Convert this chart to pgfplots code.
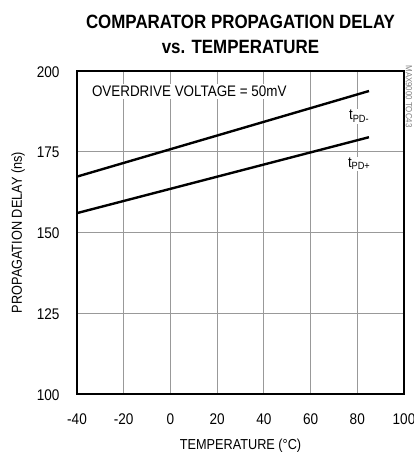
\documentclass[border=0pt]{standalone}
\usepackage{pgfplots}
\pgfplotsset{compat=1.18}
\usepackage{fontspec}
\setmainfont{Liberation Sans}[FakeStretch=0.88]

\begin{document}
\begin{tikzpicture}[x=1bp,y=1bp]
  \path[use as bounding box] (-77,-61) rectangle (336,394);
  \begin{axis}[
      scale only axis,
      width=327bp, height=323bp,
      at={(0,0)}, anchor=south west,
      xmin=-40, xmax=100,
      ymin=100, ymax=200,
      xtick={-40,-20,...,100},
      ytick={100,125,...,200},
      grid=major,
      major grid style={draw=gray!80, line width=0.8pt},
      axis line style={line width=2pt},
      major tick length=0pt,
      /pgf/number format/assume math mode=true,
      ticklabel style={font=\fontsize{15.5}{17}\selectfont},
      yticklabel style={xshift=-14bp, yshift=-1bp},
      xticklabel style={yshift=-16bp},
      xlabel={TEMPERATURE (\textdegree C)},
      ylabel={PROPAGATION DELAY (ns)},
      label style={font=\fontsize{14.5}{16}\selectfont},
      xlabel style={yshift=-8bp},
      ylabel style={yshift=5bp},
      title style={font=\bfseries\fontsize{19.3}{25}\selectfont, align=center, yshift=8bp},
      title={COMPARATOR PROPAGATION DELAY\\vs. TEMPERATURE},
      clip=false,
    ]
    \addplot[black, line width=2.4pt] coordinates {(-40,167.3) (85,193.8)};
    \addplot[black, line width=2.4pt] coordinates {(-40,156.0) (85,179.5)};
    \node[fill=white, anchor=west, inner sep=2pt, font=\fontsize{15.3}{17}\selectfont]
      at (axis cs:-34.5,193.6) {OVERDRIVE VOLTAGE = 50mV};
    \node[fill=white, inner sep=1.5pt, font=\fontsize{15}{17}\selectfont]
      at (axis cs:80.8,186) {t\textsubscript{PD-}};
    \node[fill=white, inner sep=1.5pt, font=\fontsize{15}{17}\selectfont]
      at (axis cs:80.8,171.2) {t\textsubscript{PD+}};
    \node[rotate=-90, anchor=west, text=gray, font=\fontsize{9}{10}\selectfont]
      at (axis cs:102.1,202.8) {MAX9000 TOC43};
  \end{axis}
\end{tikzpicture}
\end{document}
